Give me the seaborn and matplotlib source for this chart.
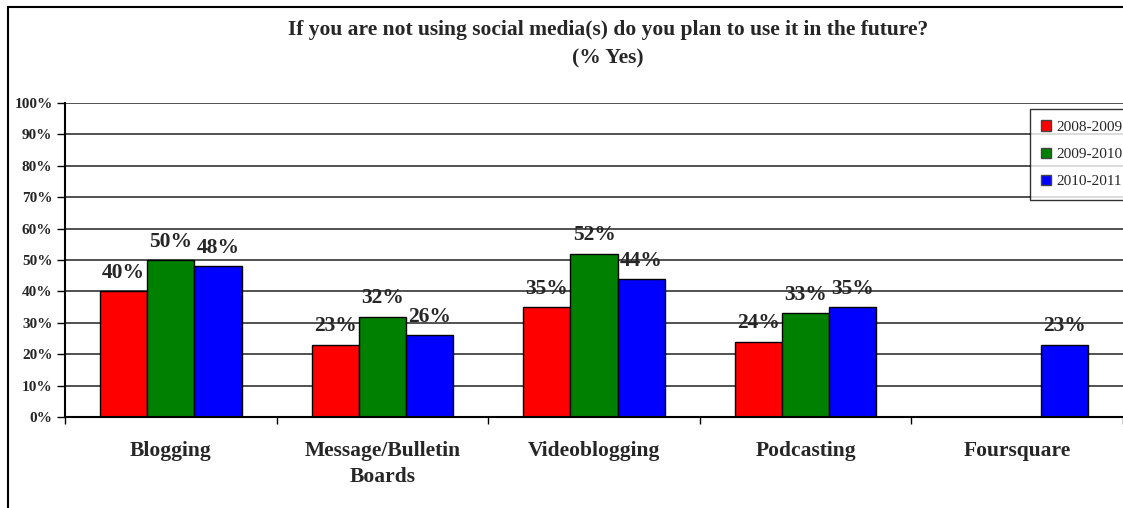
import numpy as np
import pandas as pd
import matplotlib.pyplot as plt
import seaborn as sns
from matplotlib.patches import Rectangle

categories = ["Blogging", "Message/Bulletin\nBoards", "Videoblogging", "Podcasting", "Foursquare"]
years = ["2008-2009", "2009-2010", "2010-2011"]
v2008 = [40, 23, 35, 24, np.nan]
v2009 = [50, 32, 52, 33, np.nan]
v2010 = [48, 26, 44, 35, 23]
colors = ["#FF0000", "#008000", "#0000FF"]

rows = []
for yr, vals in zip(years, [v2008, v2009, v2010]):
    for c, v in zip(categories, vals):
        rows.append({"category": c, "year": yr, "value": v})
df = pd.DataFrame(rows)

sns.set_style("white")
plt.rcParams['font.family'] = ['Liberation Serif', 'DejaVu Serif']

fig = plt.figure(figsize=(11.23, 5.08), dpi=100)
ax = fig.add_axes([65 / 1123, 1 - 417 / 508, 1 - 65 / 1123, 314 / 508])

sns.barplot(data=df, x="category", y="value", hue="year", palette=colors,
            width=0.67, edgecolor="black", linewidth=1, saturation=1,
            order=categories, hue_order=years, ax=ax, legend=True)

ax.set_ylim(0, 100)
ax.set_xlim(-0.5, 4.5 - (1132.5 - 1123) / 213.5)
ax.set_yticks(range(0, 101, 10))
ax.set_yticklabels([f"{t}%" for t in range(0, 101, 10)], fontsize=11, fontweight="bold")
ax.yaxis.grid(True, color="#333333", linewidth=1.2)
ax.set_axisbelow(True)
ax.tick_params(axis="y", direction="out", length=6, width=1, color="black", left=True, pad=3)

ax.set_xticks(np.arange(-0.5, 4.6, 1), minor=True)
ax.set_xticks(range(len(categories)))
ax.set_xticklabels(categories, fontsize=15.5, fontweight="bold", linespacing=1.45)
ax.tick_params(axis="x", which="major", length=0, pad=17)
ax.tick_params(axis="x", which="minor", direction="out", length=5, width=1, color="black", bottom=True)
ax.set_xlabel("")
ax.set_ylabel("")

for s in ["top", "right"]:
    ax.spines[s].set_visible(False)
for s in ["left", "bottom"]:
    ax.spines[s].set_color("black")
    ax.spines[s].set_linewidth(1.5)

# value labels above bars
for cont in ax.containers:
    for bar in cont:
        h = bar.get_height()
        if np.isnan(h) or h == 0:
            continue
        ax.annotate(f"{int(round(h))}%", (bar.get_x() + bar.get_width() / 2, h),
                    xytext=(0, 6), textcoords="offset points", ha="center", va="bottom",
                    fontsize=15.5, fontweight="bold")

ax.get_legend().remove()
handles = [Rectangle((0, 0), 1, 1, facecolor=c, edgecolor="#444444") for c in colors]
fig.legend(handles, years, loc="upper left", bbox_to_anchor=(1030 / 1123, 1 - 109 / 508),
           frameon=True, fancybox=False, edgecolor="black", fontsize=11,
           handlelength=0.65, handleheight=0.65, handletextpad=0.35, labelspacing=0.9,
           borderpad=0.75, borderaxespad=0)

fig.text(608 / 1123, 1 - 30 / 508,
         "If you are not using social media(s) do you plan to use it in the future?",
         ha="center", va="center", fontsize=15.5, fontweight="bold")
fig.text(608 / 1123, 1 - 58 / 508, "(% Yes)", ha="center", va="center",
         fontsize=15.5, fontweight="bold")

# outer chart frame (right and bottom edges fall outside the image)
fig.patches.append(Rectangle((8 / 1123, -0.1), 1.2, 1 - 7 / 508 + 0.1,
                             transform=fig.transFigure, fill=False,
                             edgecolor="black", linewidth=1.5))

fig.savefig("out.png", dpi=100)
